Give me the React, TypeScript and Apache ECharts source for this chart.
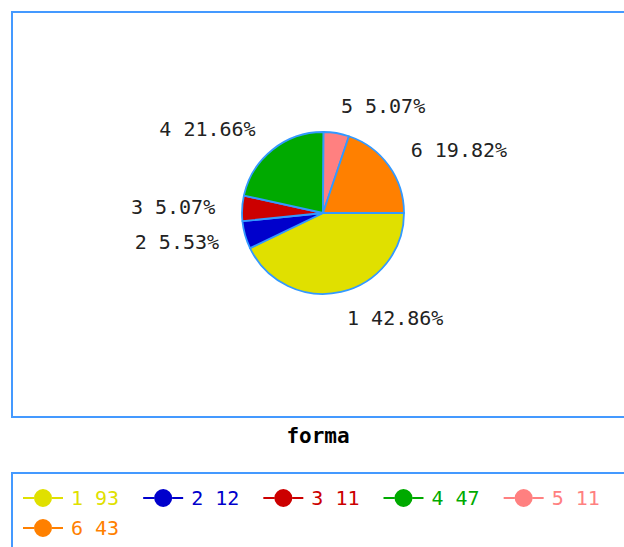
import React, { useEffect, useRef } from "react";
import * as echarts from "echarts";

const categories = ["1", "2", "3", "4", "5", "6"];
const values = [93, 12, 11, 47, 11, 43];
const colors = ["#e0e000", "#0000cc", "#cc0000", "#00aa00", "#ff8080", "#ff8000"];
const chartTitle = "forma";

const FONT = "'DejaVu Sans Mono', monospace";
const FRAME = "#4499ff";

export default function App() {
  const ref = useRef<HTMLDivElement>(null);
  useEffect(() => {
    if (!ref.current) return;
    const chart = echarts.init(ref.current, undefined, { renderer: "svg" });
    const total = values.reduce((a, b) => a + b, 0);
    const cx = 323;
    const cy = 213;
    const radius = 81;
    const labelR = 108;
    const mids: number[] = [];
    let cum = 0;
    values.forEach((v) => {
      mids.push(((cum + v / 2) / total) * Math.PI * 2);
      cum += v;
    });
    const icon =
      "path://M0,8 L11,8 L11,10 L0,10 Z M29,8 L40,8 L40,10 L29,10 Z M11,9 A9,9 0 1,0 29,9 A9,9 0 1,0 11,9 Z";
    const legendItem = (i: number) => ({
      name: categories[i],
      icon,
      textStyle: { color: colors[i] },
    });
    const legendBase = {
      orient: "horizontal" as const,
      left: 18,
      itemWidth: 40,
      itemHeight: 18,
      itemGap: 24,
      selectedMode: false,
      itemStyle: { borderWidth: 0 },
      formatter: (name: string) => {
        const i = categories.indexOf(name);
        return name + " " + values[i];
      },
      textStyle: { fontFamily: FONT, fontSize: 20, padding: [0, 0, 0, 3] },
    };
    chart.setOption({
      animation: false,
      backgroundColor: "#ffffff",
      graphic: [
        {
          type: "rect",
          shape: { x: 12, y: 12, width: 700, height: 405 },
          style: { fill: "none", stroke: FRAME, lineWidth: 2 },
          silent: true,
        },
        {
          type: "rect",
          shape: { x: 12, y: 473, width: 700, height: 120 },
          style: { fill: "none", stroke: FRAME, lineWidth: 2 },
          silent: true,
        },
        {
          type: "text",
          x: 318,
          y: 436,
          style: {
            text: chartTitle,
            fontFamily: FONT,
            fontSize: 21,
            fontWeight: "bold",
            fill: "#000000",
            align: "center",
            verticalAlign: "middle",
          },
        },
      ],
      legend: [
        { ...legendBase, top: 483, data: [0, 1, 2, 3, 4].map(legendItem) },
        { ...legendBase, top: 513, data: [5].map(legendItem) },
      ],
      series: [
        {
          type: "pie",
          center: [cx, cy],
          radius: radius,
          startAngle: 0,
          clockwise: true,
          avoidLabelOverlap: false,
          itemStyle: { borderColor: "#3399ff", borderWidth: 1.8 },
          label: {
            show: true,
            position: "outside",
            fontFamily: FONT,
            fontSize: 20,
            color: "#222222",
            formatter: (p: any) =>
              p.name + " " + ((p.value / total) * 100).toFixed(2) + "%",
          },
          labelLine: { show: false },
          labelLayout: (p: any) => {
            const a = mids[p.dataIndex];
            const c = Math.cos(a);
            return {
              x: cx + labelR * c,
              y: cy + labelR * Math.sin(a),
              align: c >= 0 ? "left" : "right",
              verticalAlign: "middle",
            };
          },
          emphasis: { disabled: true },
          data: categories.map((c, i) => ({
            name: c,
            value: values[i],
            itemStyle: { color: colors[i] },
          })),
        },
      ],
    });
    return () => chart.dispose();
  }, []);
  return (
    <div
      ref={ref}
      style={{ position: "absolute", left: 0, top: 0, width: 624, height: 547 }}
    />
  );
}
